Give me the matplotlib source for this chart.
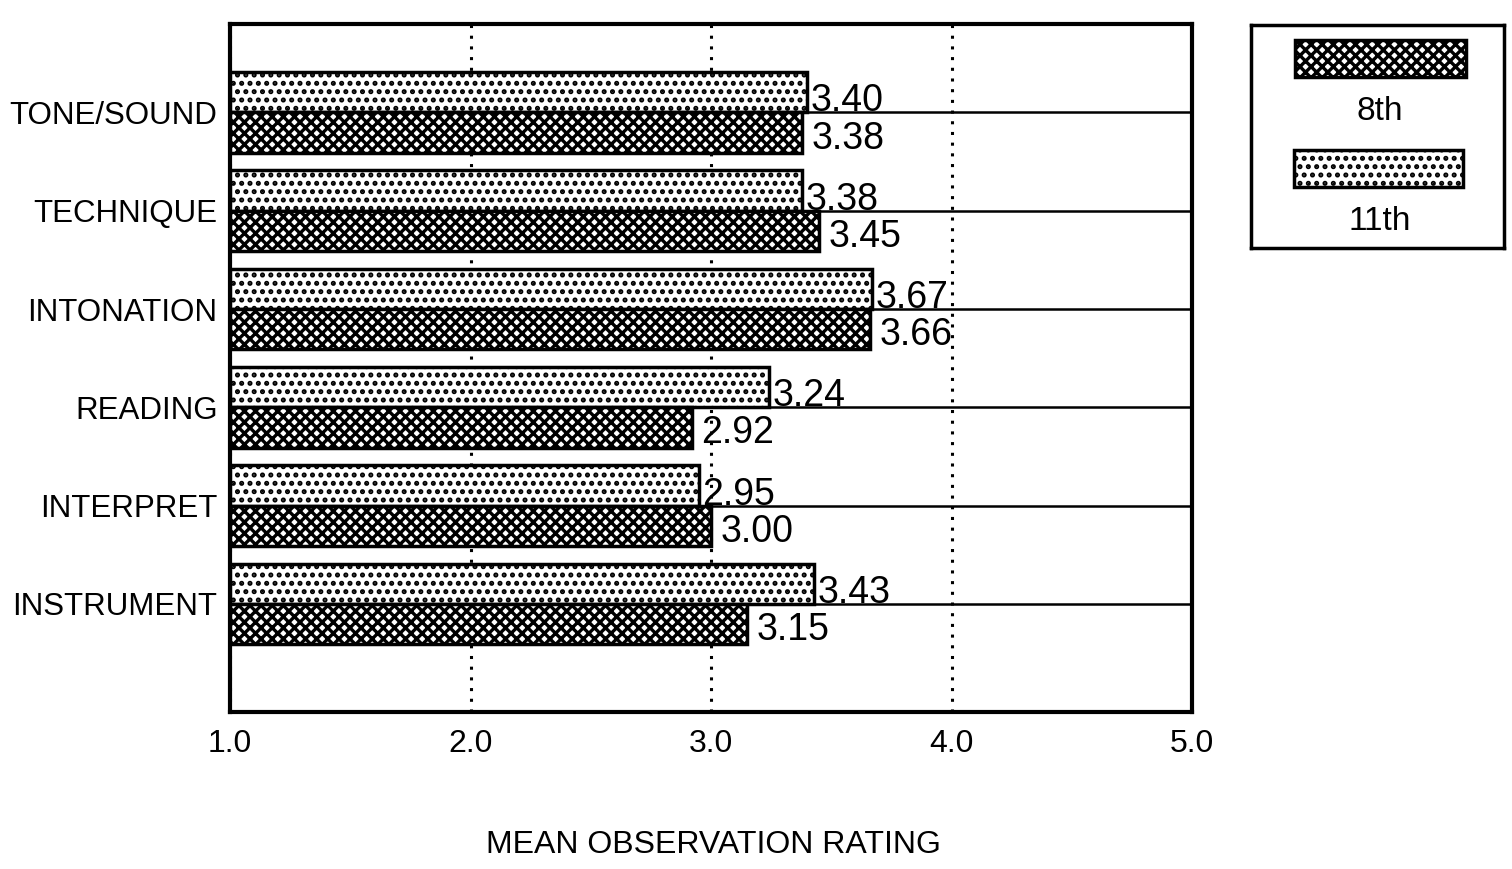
import matplotlib
matplotlib.use("Agg")
import matplotlib.pyplot as plt
import numpy as np
from matplotlib.patches import Rectangle

categories = ["TONE/SOUND", "TECHNIQUE", "INTONATION", "READING", "INTERPRET", "INSTRUMENT"]
grade11 = [3.40, 3.38, 3.67, 3.24, 2.95, 3.43]
grade8 = [3.38, 3.45, 3.66, 2.92, 3.00, 3.15]
xticks = [1.0, 2.0, 3.0, 4.0, 5.0]
xtick_labels = ["1.0", "2.0", "3.0", "4.0", "5.0"]
series_names = ["8th", "11th"]

FONT = ["Liberation Sans", "DejaVu Sans"]
plt.rcParams['font.family'] = FONT
plt.rcParams['hatch.linewidth'] = 2.4

fig = plt.figure(figsize=(15.12, 8.69), dpi=100)
ax = fig.add_axes([230/1512, 1-712/869, (1192-230)/1512, (712-24)/869])

y = np.arange(len(categories))
h = 0.41
ax.barh(y - h/2, [v - 1.0 for v in grade11], left=1.0, height=h, facecolor="white",
        edgecolor="black", hatch="..", linewidth=2.5, zorder=3)
ax.barh(y + h/2, [v - 1.0 for v in grade8], left=1.0, height=h, facecolor="white",
        edgecolor="black", hatch="xxx", linewidth=2.5, zorder=3)

for i in range(len(categories)):
    ax.text(grade11[i] + 0.015, y[i] - 0.01, f"{grade11[i]:.2f}", fontsize=27,
            ha="left", va="baseline", zorder=4)
    ax.text(grade8[i] + 0.04, y[i] + h/2 + 0.06, f"{grade8[i]:.2f}", fontsize=27,
            ha="left", va="center", zorder=4)

ax.set_xlim(1.0, 5.0)
ax.set_ylim(len(categories) - 1 + 1.1, -0.9)
ax.set_xticks(xticks)
ax.set_xticklabels(xtick_labels, fontsize=23)
ax.set_yticks(y)
ax.set_yticklabels(categories, fontsize=22.5)
ax.tick_params(axis="both", length=0)
ax.tick_params(axis="x", pad=12)
ax.tick_params(axis="y", pad=9)
ax.set_axisbelow(True)
ax.grid(axis="x", linestyle=(0, (1, 2.5)), color="black", linewidth=2.2)
ax.grid(axis="y", linestyle="-", color="black", linewidth=1.8)
for s in ax.spines.values():
    s.set_linewidth(3)
fig.text(713/1512, 1-845/869, "MEAN OBSERVATION RATING", fontsize=23,
         ha="center", va="center")

# legend box
lax = fig.add_axes([1251/1512, 1-248/869, 253/1512, 223/869])
lax.set_xlim(0, 253)
lax.set_ylim(223, 0)
lax.set_xticks([]); lax.set_yticks([])
for s in lax.spines.values():
    s.set_linewidth(2.5)
lax.add_patch(Rectangle((44, 15), 171, 37, facecolor="white", edgecolor="black",
                        hatch="xxx", linewidth=2.5))
lax.text(129, 86, series_names[0], fontsize=24, ha="center", va="center")
lax.add_patch(Rectangle((43, 125), 169, 37, facecolor="white", edgecolor="black",
                        hatch="..", linewidth=2.5))
lax.text(129, 196, series_names[1], fontsize=24, ha="center", va="center")

fig.savefig("out.png", dpi=100)
